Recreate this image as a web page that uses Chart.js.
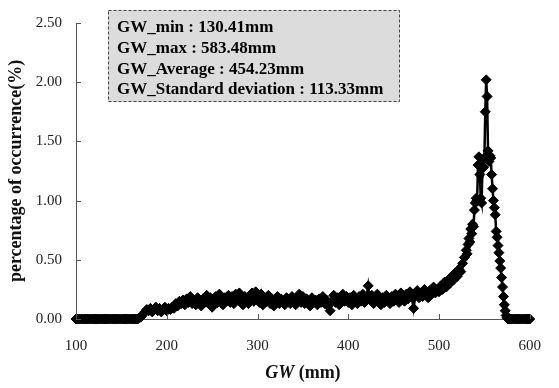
<!DOCTYPE html>
<html>
<head>
<meta charset="utf-8">
<script src="https://cdn.jsdelivr.net/npm/chart.js@4"></script>
<style>
  html, body { margin: 0; padding: 0; background: #fff; }
  #gwchart { display: block; }
</style>
</head>
<body>
<canvas id="gwchart" width="559" height="388"></canvas>
<script>
// GW (mm) bins, 2 mm steps except 1 mm around the peak
const gwMm = [
  100,102,104,106,108,110,112,114,116,118,
  120,122,124,126,128,130,132,134,136,138,
  140,142,144,146,148,150,152,154,156,158,
  160,162,164,166,168,
  170,172,174,176,178,180,182,184,186,188,
  190,192,194,196,198,200,202,204,206,208,
  210,212,214,216,218,220,222,224,226,228,
  230,232,234,236,238,240,242,244,246,248,
  250,252,254,256,258,260,262,264,266,268,
  270,272,274,276,278,280,282,284,286,288,
  290,292,294,296,298,300,302,304,306,308,
  310,312,314,316,318,320,322,324,326,328,
  330,332,334,336,338,340,342,344,346,348,
  350,352,354,356,358,360,362,364,366,368,
  370,372,374,376,378,380,382,384,386,388,
  390,392,394,396,398,400,402,404,406,408,
  410,412,414,416,418,420,422,424,426,428,
  430,432,434,436,438,440,442,444,446,448,
  450,452,454,456,458,460,462,464,466,468,
  470,472,474,476,478,480,482,484,486,488,
  490,492,494,496,498,500,502,504,506,508,
  510,512,514,516,518,520,522,524,526,528,
  530,
  531,532,533,534,535,536,537,538,539,540,
  541,542,543,544,545,546,547,548,549,550,
  551,552,553,554,555,556,557,558,559,560,
  561,562,563,564,565,566,567,568,569,570,
  571,572,573,574,575,576,577,578,579,580,
  582,584,586,588,590,592,594,596,598,600
];

// percentage of occurrence (%)
const occurrencePct = [
  0,0,0,0,0,0,0,0,0,0,
  0,0,0,0,0,0,0,0,0,0,
  0,0,0,0,0,0,0,0,0,0,
  0,0,0,0,0,
  0.01,0.02,0.04,0.06,0.08,0.07,0.09,0.06,0.08,0.10,
  0.07,0.09,0.06,0.08,0.10,0.07,0.09,0.08,0.10,0.09,
  0.13,0.11,0.15,0.13,0.16,0.12,0.17,0.14,0.19,0.13,
  0.16,0.12,0.18,0.14,0.11,0.17,0.15,0.20,0.13,0.18,
  0.10,0.16,0.19,0.14,0.21,0.15,0.12,0.18,0.16,0.20,
  0.14,0.19,0.13,0.21,0.17,0.22,0.15,0.12,0.19,0.16,
  0.13,0.18,0.22,0.15,0.23,0.19,0.14,0.21,0.12,0.18,
  0.15,0.20,0.13,0.17,0.11,0.16,0.19,0.13,0.17,0.14,
  0.12,0.18,0.15,0.13,0.19,0.16,0.12,0.17,0.21,0.14,
  0.19,0.13,0.17,0.15,0.11,0.18,0.14,0.16,0.12,0.17,
  0.14,0.19,0.13,0.16,0.11,0.07,0.15,0.20,0.14,0.18,
  0.12,0.17,0.21,0.15,0.19,0.14,0.18,0.12,0.20,0.16,
  0.13,0.19,0.15,0.21,0.14,0.18,0.28,0.16,0.20,0.13,
  0.17,0.21,0.15,0.12,0.18,0.14,0.20,0.16,0.13,0.19,
  0.15,0.21,0.17,0.14,0.22,0.18,0.15,0.21,0.17,0.23,
  0.19,0.09,0.20,0.24,0.18,0.22,0.19,0.25,0.21,0.18,
  0.24,0.21,0.27,0.22,0.25,0.23,0.28,0.25,0.31,0.27,
  0.33,0.30,0.36,0.33,0.39,0.36,0.42,0.40,0.47,0.52,
  0.58,
  0.55,0.63,0.68,0.65,0.76,0.72,0.80,0.78,0.92,0.98,
  1.02,1.00,1.30,1.37,1.22,1.02,0.98,1.34,1.28,1.36,
  1.75,2.02,1.88,1.42,1.33,1.38,1.36,1.22,1.10,1.00,
  0.94,0.88,0.74,0.69,0.62,0.56,0.49,0.43,0.35,0.27,
  0.19,0.12,0.07,0.03,0.01,0,0,0,0,0,
  0,0,0,0,0,0,0,0,0,0
];

const xTicks = [100, 200, 300, 400, 500, 600];
const yTicks = [0, 0.5, 1, 1.5, 2, 2.5];

const statLines = [
  'GW_min : 130.41mm',
  'GW_max : 583.48mm',
  'GW_Average : 454.23mm',
  'GW_Standard deviation : 113.33mm'
];

const serif = '"Liberation Serif", "Times New Roman", serif';

const points = gwMm.map((x, i) => ({ x: x, y: occurrencePct[i] }));

// small tick marks pointing into the plot, stats box and mixed-style x title
const extras = {
  id: 'extras',
  afterDraw(chart) {
    const c = chart.ctx;
    const xs = chart.scales.x;
    const ys = chart.scales.y;
    const area = chart.chartArea;
    c.save();
    c.strokeStyle = '#555';
    c.lineWidth = 1;
    c.beginPath();
    xTicks.forEach(v => {
      const px = Math.round(xs.getPixelForValue(v)) + 0.5;
      c.moveTo(px, area.bottom);
      c.lineTo(px, area.bottom - 5);
    });
    yTicks.forEach(v => {
      const py = Math.round(ys.getPixelForValue(v)) + 0.5;
      c.moveTo(area.left, py);
      c.lineTo(area.left + 5, py);
    });
    c.stroke();

    // stats box
    c.fillStyle = '#dcdcdc';
    c.fillRect(108, 10, 292, 92);
    c.setLineDash([3, 2]);
    c.strokeStyle = '#444';
    c.strokeRect(108.5, 10.5, 291, 91);
    c.setLineDash([]);
    c.fillStyle = '#000';
    c.font = 'bold 17px ' + serif;
    c.textBaseline = 'alphabetic';
    c.textAlign = 'left';
    statLines.forEach((t, i) => {
      c.fillText(t, 117, 32 + i * 20.8);
    });

    // x title: GW italic + (mm)
    const a = 'GW';
    const b = ' (mm)';
    c.font = 'italic bold 18px ' + serif;
    const wa = c.measureText(a).width;
    c.font = 'bold 18px ' + serif;
    const wb = c.measureText(b).width;
    const cx = (area.left + area.right) / 2;
    const x0 = cx - (wa + wb) / 2;
    c.fillStyle = '#111';
    c.font = 'italic bold 18px ' + serif;
    c.fillText(a, x0, 378);
    c.font = 'bold 18px ' + serif;
    c.fillText(b, x0 + wa, 378);
    c.restore();
  }
};

new Chart(document.getElementById('gwchart'), {
  type: 'line',
  data: {
    datasets: [{
      data: points,
      borderColor: '#000',
      borderWidth: 2.5,
      pointStyle: 'rectRot',
      pointRadius: 5,
      pointBackgroundColor: '#000',
      pointBorderColor: '#000',
      pointBorderWidth: 1,
      tension: 0,
      clip: false
    }]
  },
  options: {
    responsive: false,
    animation: false,
    devicePixelRatio: 1,
    layout: { padding: { top: 23, right: 11, left: 0, bottom: 0 } },
    plugins: { legend: { display: false }, tooltip: { enabled: false } },
    scales: {
      x: {
        type: 'linear',
        min: 100,
        max: 600,
        afterBuildTicks: s => { s.ticks = xTicks.map(v => ({ value: v })); },
        afterFit: s => { s.height = 69; },
        grid: { display: false, drawTicks: false },
        border: { display: true, color: '#555', width: 1 },
        ticks: {
          padding: 18,
          color: '#222',
          maxRotation: 0,
          font: { family: serif, size: 15 }
        }
      },
      y: {
        min: 0,
        max: 2.5,
        afterBuildTicks: s => { s.ticks = yTicks.map(v => ({ value: v })); },
        afterFit: s => { s.width = 76; },
        grid: { display: false, drawTicks: false },
        border: { display: true, color: '#555', width: 1 },
        ticks: {
          padding: 14,
          color: '#222',
          font: { family: serif, size: 15 },
          callback: v => Number(v).toFixed(2)
        },
        title: {
          display: true,
          text: 'percentage of occurrence(%)',
          color: '#111',
          font: { family: serif, size: 18, weight: 'bold' },
          padding: { top: 6, bottom: 0 }
        }
      }
    }
  },
  plugins: [extras]
});
</script>
</body>
</html>
